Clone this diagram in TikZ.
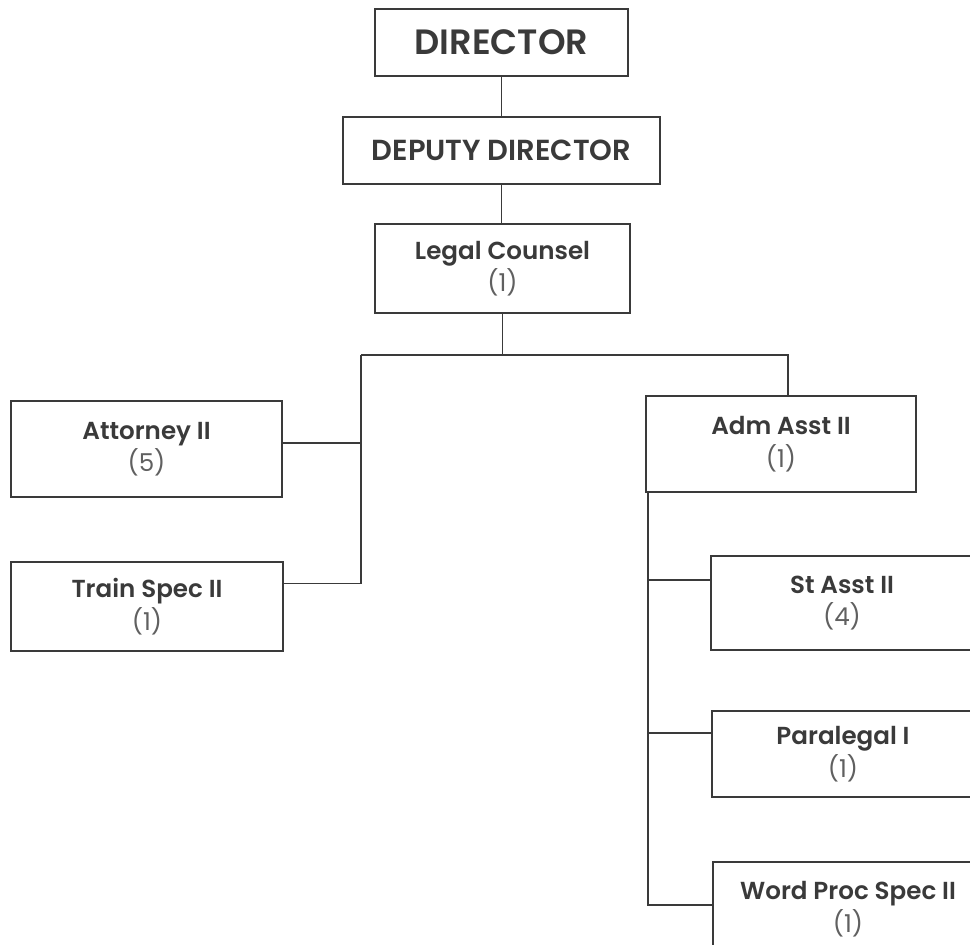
\documentclass[tikz,border=0pt]{standalone}
\usepackage{fontspec}
\setmainfont{Poppins}[BoldFont={Poppins SemiBold}]
\usetikzlibrary{calc}
\definecolor{ink}{HTML}{3A3A3A}
\definecolor{soft}{HTML}{606060}
\begin{document}
\begin{tikzpicture}[x=0.02cm,y=-0.02cm,
  box/.style={draw=ink,line width=1.1pt,fill=white,inner sep=0pt,align=center,text=ink},
  post/.style={box,font=\fontsize{14}{18.5}\selectfont\bfseries},
  head/.style={box,font=\fontsize{20}{22}\selectfont\bfseries},
  link/.style={draw=ink,line width=1.1pt}]
\useasboundingbox (0,0) rectangle (970,945);
\clip (0,0) rectangle (970,945);
\fill[white] (0,0) rectangle (970,945);

% top of the chain
\node[head,minimum width=253*0.02cm,minimum height=67*0.02cm] (dir) at (501.5,42.5) {DIRECTOR};
\node[head,font=\fontsize{16.5}{20}\selectfont\bfseries,minimum width=317*0.02cm,minimum height=67*0.02cm] (dep) at (501.5,150.5) {DEPUTY DIRECTOR};
\node[post,minimum width=255*0.02cm,minimum height=89*0.02cm] (lc) at (502.5,268.5) {Legal Counsel\\{\mdseries\color{soft}(1)}};

% left branch
\node[post,minimum width=271*0.02cm,minimum height=96*0.02cm] (att) at (146.5,449) {Attorney II\\{\mdseries\color{soft}(5)}};
\node[post,minimum width=272*0.02cm,minimum height=89*0.02cm] (trn) at (147,606.5) {Train Spec II\\{\mdseries\color{soft}(1)}};

% right branch
\node[post,minimum width=270*0.02cm,minimum height=96*0.02cm] (adm) at (781,444) {Adm Asst II\\{\mdseries\color{soft}(1)}};
\node[post,minimum width=262*0.02cm,minimum height=94*0.02cm] (st) at (842,603) {St Asst II\\{\mdseries\color{soft}(4)}};
\node[post,minimum width=262*0.02cm,minimum height=86*0.02cm] (para) at (843,754) {Paralegal I\\{\mdseries\color{soft}(1)}};
\node[post,minimum width=270*0.02cm,minimum height=94*0.02cm] (wp) at (848,909) {Word Proc Spec II\\{\mdseries\color{soft}(1)}};

% junction points of the bus lines
\coordinate (lbus) at (361,355);
\coordinate (rbus) at (788,355);
\coordinate (abus) at (648,492);

% connectors
\draw[link] (dir.south) -- (dep.north);
\draw[link] (dep.south) -- (dep.south |- lc.north);
\draw[link] (lc.south) -- (lc.south |- lbus);
\draw[link] (lbus) -- (rbus) -- (rbus |- adm.north);
\draw[link] ($(att.east)+(0,-6)$) -| (lbus);
\draw[link] ($(trn.east)+(0,-23)$) -| (lbus);
\draw[link] ($(st.west)+(0,-23)$) -| (abus);
\draw[link] ($(para.west)+(0,-21)$) -| (abus);
\draw[link] ($(wp.west)+(0,-4)$) -| (abus);
\end{tikzpicture}
\end{document}
